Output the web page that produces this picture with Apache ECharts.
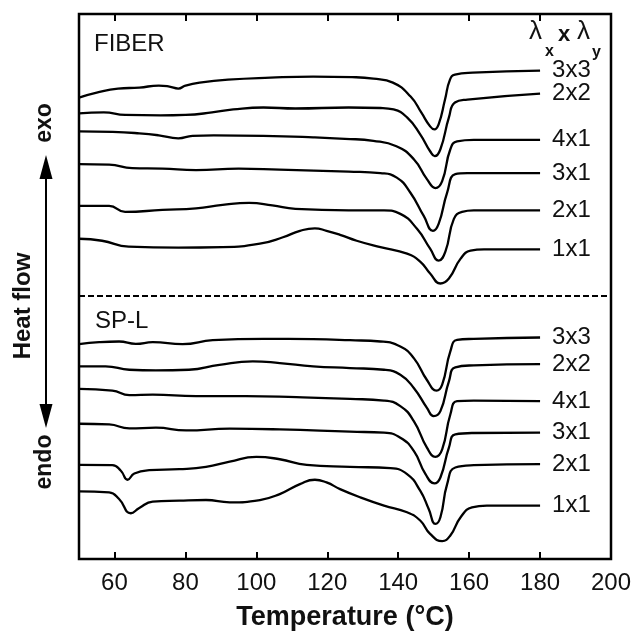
<!DOCTYPE html>
<html>
<head>
<meta charset="utf-8">
<script src="https://cdn.jsdelivr.net/npm/echarts@6/dist/echarts.min.js"></script>
<style>
  html, body { margin: 0; padding: 0; background: #fff; }
  #main { width: 636px; height: 636px; }
</style>
</head>
<body>
<div id="main"></div>
<script>
// DSC heating curves, heat flow in arbitrary units (curves stacked with offsets)
var tempTicks = [60, 80, 100, 120, 140, 160, 180, 200];
var curveLabels = ['3x3', '2x2', '4x1', '3x1', '2x1', '1x1'];
var separatorLevel = 265;

// [temperature, heat flow]
var fiber_3x3 = [[50,464],[55,469],[61,473],[67,474],[72.5,476],[75.5,475],[78,473],[80,476],[84,479],[92,482],[104,484],[116,485],[127,484.5],[133,483],[138.5,479],[143.5,465],[146.5,449],[149,435],[150.2,432],[151.4,437],[153.2,462],[154.6,482],[156,487],[161,489],[180,491]];
var fiber_2x2 = [[50,448],[57,449],[63,446.5],[73,446],[80,446.5],[87.5,449],[93.5,452],[102,454],[111,453],[126,454],[135,453.5],[138.7,452],[142.5,444],[146.2,427],[149,410],[150.3,405],[151.9,412],[154.3,444],[156,459],[159.5,462],[180,468]];
var fiber_4x1 = [[50,430],[59.5,429.5],[67,428],[72.5,426],[78,423],[82,425.5],[88,426],[102,425.5],[116,424],[125,422.5],[133,420.5],[139.5,415],[144.4,402],[148.1,382],[150.5,373],[152.4,380],[154.7,412],[156.6,420],[161.3,421.5],[180,421.5]];
var fiber_3x1 = [[50,397],[58.5,396.5],[65,393],[73.5,392.5],[83,391],[95,392.5],[106.5,391.5],[126,389.5],[135,388],[139.6,383.5],[143.4,368.5],[147.2,345],[149.8,330],[151.4,337],[153.8,368.5],[156.1,387],[159.5,388],[180,388]];
var fiber_2x1 = [[50,355],[58.5,355],[63,349],[73.5,351],[83,352.5],[90.5,356],[98,358],[104.5,355.5],[111,352],[126,350.5],[136,350.5],[140.6,347],[145.3,332],[149,312],[151.4,300],[153.3,309],[155.7,342],[158,349],[161.3,350.5],[180,350.5]];
var fiber_1x1 = [[50,322],[56.5,320],[64,314],[78,313],[90.5,313.5],[101,317],[107.5,323.5],[112.3,330],[116.5,332.5],[119.8,330],[123.6,326],[128.3,320],[135,313.5],[142.5,307],[146.2,299],[149,287],[151.9,277],[154.3,282],[157.6,302],[160.4,310],[164.2,311.3],[180,311.3]];

var spl_3x3 = [[50,216],[55.7,218],[61.3,218.7],[66,216.3],[70.8,218],[79.2,216],[87.7,220],[102,221.3],[116,221],[126.4,220],[135,218.7],[140.6,213.7],[144.4,202],[148.1,180],[150.8,169.3],[152.4,175.3],[154.7,208.7],[156.6,220.3],[161.3,221.3],[180,222.7]];
var spl_2x2 = [[50,193.7],[57.5,193.7],[64.2,190.3],[71.7,189.7],[81,190.3],[89.6,195.3],[99,198.7],[106.6,197],[116,193.7],[126.4,192],[136,190.3],[140.6,185.3],[144.4,172],[148.1,152],[150,143.7],[151.9,148.7],[154.3,178.7],[156.1,192.7],[161.3,194.7],[180,196]];
var spl_4x1 = [[50,171],[59.4,169.3],[64.2,164.7],[70.8,165.3],[83,163.7],[97,163.7],[111.3,162.7],[126.4,161],[136,159.3],[140.6,153.7],[144.4,138.7],[148.1,112],[150.5,102.7],[152.4,110.3],[154.7,145.3],[156.6,158.7],[161.3,159.3],[180,158.7]];
var spl_3x1 = [[50,136],[58.5,135.3],[64.2,131.3],[71.7,132],[80.2,129.3],[92.5,131],[106.6,130.3],[126.4,128],[136,127],[140.6,122],[144.4,108.7],[147.7,85.3],[150.2,76],[151.9,82],[154.3,112],[156.1,125.3],[161.3,126.7],[180,127]];
var spl_2x1 = [[50,94.7],[59.4,94.3],[61.8,88.7],[63.7,79.7],[65.6,86],[69.8,89.3],[78.3,90.3],[85.8,92.7],[92.5,98],[100,102.7],[106.6,100.3],[114.2,94.7],[126.4,92.7],[137.8,91.3],[142.5,85.3],[146.2,68.7],[148.6,50.3],[150.5,35.3],[151.9,42],[153.8,75.3],[156.1,92],[161.3,94.3],[180,95.3]];
var spl_1x1 = [[50,68],[58.5,67],[61.3,60.3],[64.6,46],[67,51.3],[70.8,57.7],[78.3,58.7],[85.8,59.3],[92.5,57],[101,59.3],[106.6,65.3],[112.3,75.3],[116.5,79.7],[119.8,77],[123.6,70.3],[129.3,62],[136,53.7],[142.5,47],[146.2,38.7],[149,25.3],[152.4,18],[154.7,23.7],[157.6,42],[160.8,52],[165,53.7],[180,53.7]];

var fiberCurves = [fiber_3x3, fiber_2x2, fiber_4x1, fiber_3x1, fiber_2x1, fiber_1x1];
var splCurves = [spl_3x3, spl_2x2, spl_4x1, spl_3x1, spl_2x1, spl_1x1];

var myChart = echarts.init(document.getElementById('main'));

function makeSeries(group, curves) {
    return curves.map(function (data, i) {
        return {
            name: group + ' ' + curveLabels[i],
            type: 'line',
            data: data,
            showSymbol: false,
            smooth: 0.5,
            lineStyle: { color: '#000', width: 2.3 },
            itemStyle: { color: '#000' },
            endLabel: {
                show: true,
                distance: 12,
                formatter: curveLabels[i],
                color: '#111',
                fontSize: 24,
                fontFamily: 'Liberation Sans'
            },
            animation: false,
            silent: true
        };
    });
}

var series = makeSeries('FIBER', fiberCurves).concat(makeSeries('SP-L', splCurves));
// dashed separator between the two groups
series.push({
    type: 'line',
    data: [],
    markLine: {
        silent: true,
        symbol: 'none',
        label: { show: false },
        lineStyle: { color: '#000', type: [6, 3], width: 2 },
        data: [{ yAxis: separatorLevel }]
    }
});

var font = 'Liberation Sans';
var option = {
    animation: false,
    backgroundColor: '#fff',
    grid: {
        left: 79, right: 25, top: 14, bottom: 74,
        show: true, borderColor: '#000', borderWidth: 2.5, backgroundColor: 'transparent'
    },
    xAxis: [{
        type: 'value',
        min: 50, max: 200,
        position: 'bottom',
        name: 'Temperature (°C)',
        nameLocation: 'middle',
        nameGap: 45,
        nameTextStyle: { color: '#111', fontSize: 27, fontWeight: 'bold', fontFamily: font },
        axisLine: { show: false },
        splitLine: { show: false },
        axisTick: { show: true, inside: true, length: 7, lineStyle: { color: '#000', width: 2 }, customValues: tempTicks },
        axisLabel: { color: '#111', fontSize: 24, fontFamily: font, margin: 12, customValues: tempTicks }
    }, {
        type: 'value',
        min: 50, max: 200,
        position: 'top',
        axisLine: { show: false },
        splitLine: { show: false },
        axisTick: { show: true, inside: true, length: 7, lineStyle: { color: '#000', width: 2 }, customValues: tempTicks },
        axisLabel: { show: false }
    }],
    yAxis: {
        type: 'value',
        min: 0, max: 548,
        show: false,
        splitLine: { show: false }
    },
    series: series,
    graphic: [
        { type: 'text', x: 94, y: 44, style: { text: 'FIBER', font: '24px ' + font, fill: '#111', verticalAlign: 'middle' } },
        { type: 'text', x: 95, y: 321, style: { text: 'SP-L', font: '24px ' + font, fill: '#111', verticalAlign: 'middle' } },
        { type: 'text', x: 529, y: 32, style: { text: 'λ', font: '26px ' + font, fill: '#111', verticalAlign: 'middle' } },
        { type: 'text', x: 545, y: 52, style: { text: 'x', font: 'bold 16px ' + font, fill: '#111', verticalAlign: 'middle' } },
        { type: 'text', x: 558, y: 35, style: { text: 'x', font: 'bold 22px ' + font, fill: '#111', verticalAlign: 'middle' } },
        { type: 'text', x: 577, y: 32, style: { text: 'λ', font: '26px ' + font, fill: '#111', verticalAlign: 'middle' } },
        { type: 'text', x: 592, y: 53, style: { text: 'y', font: 'bold 16px ' + font, fill: '#111', verticalAlign: 'middle' } },
        // heat flow arrow
        { type: 'line', shape: { x1: 46, y1: 172, x2: 46, y2: 410 }, style: { stroke: '#000', lineWidth: 2 } },
        { type: 'polygon', shape: { points: [[46, 155], [39.5, 179], [52.5, 179]] }, style: { fill: '#000' } },
        { type: 'polygon', shape: { points: [[46, 428], [39.5, 404], [52.5, 404]] }, style: { fill: '#000' } },
        { type: 'text', x: 45, y: 123, rotation: Math.PI / 2, style: { text: 'exo', font: 'bold 23px ' + font, fill: '#111', align: 'center', verticalAlign: 'middle' } },
        { type: 'text', x: 45, y: 462, rotation: Math.PI / 2, style: { text: 'endo', font: 'bold 23px ' + font, fill: '#111', align: 'center', verticalAlign: 'middle' } },
        { type: 'text', x: 23, y: 306, rotation: Math.PI / 2, style: { text: 'Heat flow', font: 'bold 24px ' + font, fill: '#111', align: 'center', verticalAlign: 'middle' } }
    ]
};

myChart.setOption(option);
</script>
</body>
</html>
